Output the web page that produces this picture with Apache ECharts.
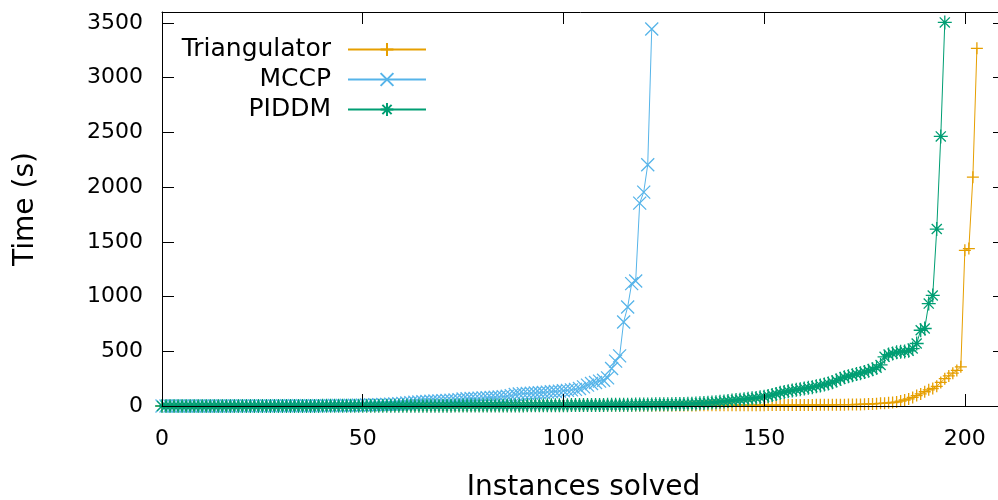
<!DOCTYPE html>
<html>
<head>
<meta charset="utf-8">
<script src="https://cdn.jsdelivr.net/npm/echarts@6/dist/echarts.min.js"></script>
<style>
html,body{margin:0;padding:0;background:#fff;}
#chart{width:998px;height:500px;}
</style>
</head>
<body>
<div id="chart"></div>
<script>
// ---- data (sorted solve times, index = instances solved) ----
const seriesNames = ['Triangulator', 'MCCP', 'PIDDM'];

const triangulatorTimes = [
  0.1,0.1,0.1,0.1,0.1,0.1,0.1,0.1,0.1,0.1,
  0.1,0.1,0.1,0.2,0.2,0.2,0.2,0.2,0.2,0.2,
  0.2,0.2,0.3,0.3,0.3,0.3,0.3,0.3,0.3,0.4,
  0.4,0.4,0.4,0.4,0.5,0.5,0.5,0.5,0.6,0.6,
  0.6,0.6,0.7,0.7,0.7,0.8,0.8,0.8,0.9,0.9,
  0.9,1.0,1.0,1.0,1.1,1.1,1.2,1.2,1.2,1.3,
  1.3,1.4,1.4,1.5,1.5,1.5,1.6,1.6,1.7,1.7,
  1.8,1.8,1.9,1.9,2.0,2.0,2.1,2.1,2.2,2.2,
  2.3,2.3,2.4,2.4,2.5,2.5,2.6,2.6,2.7,2.8,
  2.8,2.9,2.9,3.0,3.0,3.1,3.1,3.2,3.3,3.3,
  3.4,3.4,3.5,3.5,3.6,3.7,3.7,3.8,3.8,3.9,
  4.0,4.0,4.1,4.2,4.2,4.3,4.4,4.4,4.5,4.6,
  4.6,4.7,4.8,4.9,4.9,5.0,5.1,5.2,5.3,5.3,
  5.4,5.5,5.6,5.7,5.8,5.9,6.0,6.1,6.2,6.3,
  6.4,6.5,6.6,6.8,6.9,7.0,7.2,7.3,7.5,7.6,
  7.8,8.0,8.1,8.3,8.5,8.7,8.9,9.1,9.3,9.5,
  9.7,9.9,10.1,10.3,10.5,10.8,11.1,11.4,11.7,12.0,
  12.3,12.7,13.2,13.8,14.5,16,17.5,19,21,24,
  26,29,32,36,45,55,65,78,95,110,
  130,148,160,180,215,250,275,300,325,358,
  1422,1438,2091,3268
];

const mccpTimes = [
  0.2,0.2,0.2,0.3,0.3,0.3,0.3,0.4,0.4,0.4,
  0.5,0.5,0.5,0.6,0.6,0.7,0.7,0.8,0.8,0.9,
  0.9,1.0,1.0,1.1,1.2,1.2,1.3,1.4,1.5,1.6,
  1.7,1.8,1.9,2.0,2.1,2.2,2.4,2.5,2.7,2.9,
  3.1,3.3,3.5,3.8,4.1,4.4,4.8,5.2,6,7,
  8,9,10,11,12,13,15,17,19,21,
  24,27,31,35,37,39,41,43,45,47,
  49,51,53,55,58,64,66,68,70,72,
  74,76,78,80,83,86,89,95,105,110,
  113,115,117,119,121,124,127,130,133,136,
  139,143,147,152,160,175,191,206,215,227,
  236,257,343,410,458,768,905,1118,1142,1854,
  1954,2204,3445
];

const piddmTimes = [
  0.1,0.1,0.1,0.1,0.1,0.2,0.2,0.2,0.2,0.2,
  0.2,0.3,0.3,0.3,0.3,0.3,0.4,0.4,0.4,0.4,
  0.5,0.5,0.5,0.5,0.6,0.6,0.6,0.7,0.7,0.7,
  0.8,0.8,0.8,0.9,0.9,1.0,1.0,1.0,1.1,1.1,
  1.2,1.2,1.3,1.3,1.4,1.4,1.5,1.5,1.6,1.6,
  1.7,1.7,1.8,1.9,1.9,2.0,2.1,2.1,2.2,2.3,
  2.3,2.4,2.5,2.6,2.6,2.7,2.8,2.9,3.0,3.1,
  3.2,3.3,3.4,3.5,3.6,3.7,3.8,3.9,4.0,4.1,
  4.2,4.4,4.5,4.6,4.8,4.9,5.0,5.2,5.3,5.5,
  5.6,5.8,6.0,6.1,6.3,6.5,6.7,6.9,7.1,7.3,
  7.5,7.7,8.0,8.2,8.4,8.7,9.0,9.2,9.5,9.8,
  10.1,10.4,10.7,11,11.3,11.6,12,12.4,12.8,13.2,
  13.6,14,14.5,15,15.5,16,16.5,17,17.5,18,
  19,20,21,23,25,27,29,32,35,38,
  42,46,50,54,58,62,66,70,74,79,
  85,92,100,110,120,128,135,142,148,154,
  160,166,172,180,188,196,206,218,232,248,
  262,272,282,292,300,310,322,336,350,375,
  449,470,480,490,495,497,505,525,571,692,
  708,936,1010,1617,2463,3505
];

const xTicks = { min: 0, max: 210, interval: 50 };
const yTicks = { min: 0, max: 3600, interval: 500 };

// ---- build ----
const colors = ['#E69F00', '#56B4E9', '#009E73'];
const symbols = [
  'path://M0,-1L0,1M-1,0L1,0',
  'path://M-1,-1L1,1M-1,1L1,-1',
  'path://M0,-1L0,1M-1,0L1,0M-0.72,-0.72L0.72,0.72M-0.72,0.72L0.72,-0.72'
];
const symbolSizes = [12, 13, 14];
const allTimes = [triangulatorTimes, mccpTimes, piddmTimes];

const FONT = 'DejaVu Sans';

const series = seriesNames.map((name, k) => ({
  name: name,
  type: 'line',
  xAxisIndex: 0,
  yAxisIndex: 0,
  data: allTimes[k].map((v, i) => [i, v]),
  symbol: symbols[k],
  symbolSize: symbolSizes[k],
  showSymbol: true,
  lineStyle: { color: colors[k], width: 1 },
  itemStyle: { color: colors[k], borderColor: colors[k], borderWidth: 1.3 },
  emphasis: { disabled: true },
  silent: true,
  z: 2 + k
}));

const chart = echarts.init(document.getElementById('chart'), null, { renderer: 'canvas' });

const axisCommon = {
  axisLine: { show: true, onZero: false, lineStyle: { color: '#000', width: 1 } },
  axisTick: { show: true, inside: true, length: 12, lineStyle: { color: '#000', width: 1 } },
  splitLine: { show: false },
  z: 10
};

chart.setOption({
  animation: false,
  backgroundColor: '#fff',
  color: colors,
  grid: { left: 162, right: -7, top: 12, bottom: 94, containLabel: false, outerBoundsMode: 'none' },
  legend: {
    data: seriesNames,
    orient: 'vertical',
    align: 'right',
    right: 571,
    top: 37,
    padding: 0,
    itemGap: 5,
    itemWidth: 78,
    itemHeight: 16,
    selectedMode: false,
    textStyle: { fontFamily: FONT, fontSize: 25, color: '#000', lineHeight: 24.5, padding: [0, 12, 0, 0] }
  },
  xAxis: [
    Object.assign({}, axisCommon, {
      type: 'value', position: 'bottom',
      min: xTicks.min, max: xTicks.max, interval: xTicks.interval,
      axisLabel: { show: true, margin: 22, fontFamily: FONT, fontSize: 22, color: '#000', showMaxLabel: false,
        formatter: v => String(v) },
      name: 'Instances solved', nameLocation: 'middle', nameGap: 68, nameMoveOverlap: false,
      nameTextStyle: { fontFamily: FONT, fontSize: 28, color: '#000' }
    }),
    Object.assign({}, axisCommon, {
      type: 'value', position: 'top',
      min: xTicks.min, max: xTicks.max, interval: xTicks.interval,
      axisLabel: { show: false }
    })
  ],
  yAxis: [
    Object.assign({}, axisCommon, {
      type: 'value', position: 'left',
      min: yTicks.min, max: yTicks.max, interval: yTicks.interval,
      axisLabel: { show: true, margin: 19, fontFamily: FONT, fontSize: 22, color: '#000', showMaxLabel: false,
        formatter: v => String(v) },
      name: 'Time (s)', nameLocation: 'middle', nameGap: 122, nameMoveOverlap: false,
      nameTextStyle: { fontFamily: FONT, fontSize: 28, color: '#000' }
    }),
    Object.assign({}, axisCommon, {
      type: 'value', position: 'right',
      min: yTicks.min, max: yTicks.max, interval: yTicks.interval,
      axisLabel: { show: false }
    })
  ],
  series: series
});
</script>
</body>
</html>
